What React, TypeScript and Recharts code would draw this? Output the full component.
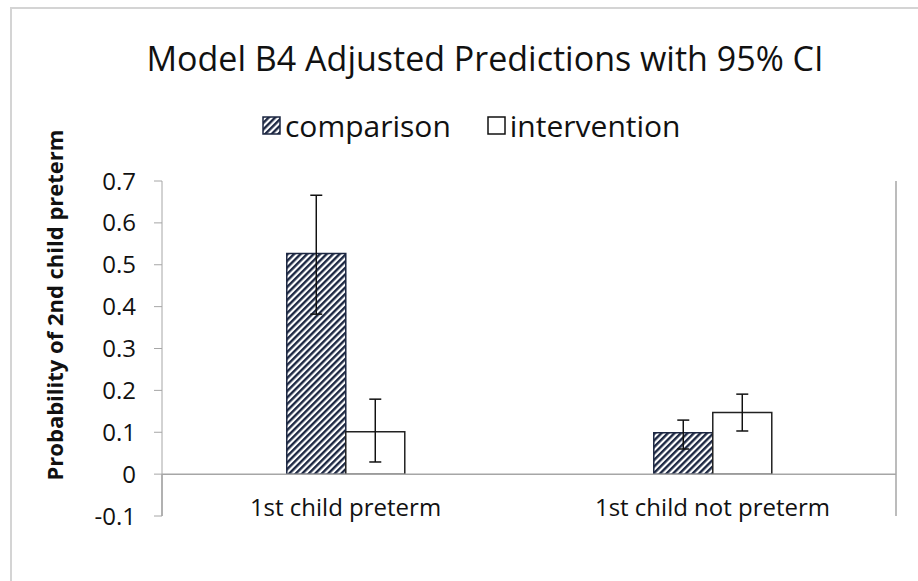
import React from "react";
import {
  BarChart,
  Bar,
  XAxis,
  YAxis,
  ErrorBar,
  ReferenceLine,
} from "recharts";

// values
const groups = ["1st child preterm", "1st child not preterm"];
const comparison = [0.527, 0.099];
const comparisonLow = [0.382, 0.06];
const comparisonHigh = [0.666, 0.129];
const intervention = [0.101, 0.147];
const interventionLow = [0.029, 0.103];
const interventionHigh = [0.179, 0.191];
const yTicks = [-0.1, 0, 0.1, 0.2, 0.3, 0.4, 0.5, 0.6, 0.7];
const dividers = [0, 1, 2];

const data = groups.map((g, i) => ({
  group: g,
  comparison: comparison[i],
  compErr: [comparison[i] - comparisonLow[i], comparisonHigh[i] - comparison[i]],
  intervention: intervention[i],
  intErr: [intervention[i] - interventionLow[i], interventionHigh[i] - intervention[i]],
}));

const FONT = "'Open Sans', 'Noto Sans', sans-serif";
const AXIS = "#a6a6a6";
const NAVY = "#1c2742";

function Hatch({ id }: { id: string }) {
  return (
    <pattern
      id={id}
      patternUnits="userSpaceOnUse"
      width={4.6}
      height={4.6}
      patternTransform="rotate(45)"
    >
      <rect width={4.6} height={4.6} fill="#fff" />
      <rect width={2.4} height={4.6} fill={NAVY} />
    </pattern>
  );
}

function CategoryTick(props: any) {
  const { x, y, payload } = props;
  return (
    <text
      x={x}
      y={y - 14}
      textAnchor="middle"
      dominantBaseline="middle"
      fontSize={24}
      fontFamily={FONT}
      fill="#111"
    >
      {payload.value}
    </text>
  );
}

function ChartLegend() {
  const item = (hatched: boolean, label: string, gap: number) => (
    <span style={{ display: "inline-flex", alignItems: "center", marginRight: gap }}>
      <svg width={19} height={19} style={{ marginRight: 4 }}>
        <defs>
          <Hatch id="hatchLegend" />
        </defs>
        <rect
          x={1}
          y={1}
          width={17}
          height={17}
          fill={hatched ? "url(#hatchLegend)" : "#fff"}
          stroke={hatched ? NAVY : "#111"}
          strokeWidth={1.5}
        />
      </svg>
      <span>{label}</span>
    </span>
  );
  return (
    <div
      style={{
        position: "absolute",
        left: 262,
        top: 105,
        height: 40,
        display: "flex",
        alignItems: "center",
        fontFamily: FONT,
        fontSize: 30,
        color: "#111",
        whiteSpace: "nowrap",
      }}
    >
      {item(true, "comparison", 36)}
      {item(false, "intervention", 0)}
    </div>
  );
}

export default function App() {
  return (
    <div
      style={{
        position: "absolute",
        left: 0,
        top: 0,
        width: 918,
        height: 581,
        overflow: "hidden",
        background: "#fff",
      }}
    >
      <div
        style={{
          position: "absolute",
          left: 10,
          top: 7,
          width: 930,
          height: 600,
          border: "2px solid #d4d4d4",
        }}
      />
      <div
        style={{
          position: "absolute",
          left: 0,
          width: 918,
          top: 35,
          textAlign: "center",
          fontFamily: FONT,
          fontSize: 34,
          color: "#111",
          paddingLeft: 52,
          boxSizing: "border-box",
          whiteSpace: "nowrap",
        }}
      >
        Model B4 Adjusted Predictions with 95% CI
      </div>
      <ChartLegend />
      <div style={{ position: "absolute", left: 0, top: 0 }}>
        <BarChart
          width={918}
          height={581}
          data={data}
          margin={{ top: 181, right: 22, bottom: 35, left: 62 }}
          barCategoryGap="34%"
          barGap={0}
        >
          <defs>
            <Hatch id="hatch" />
          </defs>
          <XAxis
            dataKey="group"
            axisLine={false}
            tickLine={false}
            height={30}
            tick={<CategoryTick />}
          />
          <XAxis xAxisId="n" type="number" domain={[0, 2]} hide />
          <YAxis
            domain={[-0.1, 0.7]}
            ticks={yTicks}
            interval={0}
            width={100}
            stroke={AXIS}
            tickSize={8}
            tickMargin={18}
            tickFormatter={(v: number) => (v === 0 ? "0" : String(Math.round(v * 10) / 10))}
            tick={{ fill: "#111", fontSize: 24, fontFamily: FONT }}
          />
          <ReferenceLine y={0} stroke={AXIS} strokeWidth={1.5} />
          {dividers.map((d) => (
            <ReferenceLine
              key={d}
              xAxisId="n"
              stroke={AXIS}
              strokeWidth={1.5}
              segment={
                d === 1
                  ? [
                      { x: d, y: -0.1 },
                      { x: d, y: 0.7 },
                    ]
                  : [
                      { x: d, y: -0.1 },
                      { x: d, y: 0 },
                    ]
              }
            />
          ))}
          <Bar
            dataKey="comparison"
            name="comparison"
            fill="url(#hatch)"
            stroke={NAVY}
            strokeWidth={1.5}
            isAnimationActive={false}
          >
            <ErrorBar dataKey="compErr" width={6} stroke="#111" strokeWidth={1.5} />
          </Bar>
          <Bar
            dataKey="intervention"
            name="intervention"
            fill="#fff"
            stroke="#222"
            strokeWidth={1.5}
            isAnimationActive={false}
          >
            <ErrorBar dataKey="intErr" width={6} stroke="#111" strokeWidth={1.5} />
          </Bar>
        </BarChart>
      </div>
      <svg
        width={918}
        height={581}
        style={{ position: "absolute", left: 0, top: 0, pointerEvents: "none" }}
      >
        <text
          transform="translate(57, 305) rotate(-90)"
          textAnchor="middle"
          dominantBaseline="middle"
          fontSize={22}
          fontWeight="bold"
          fontFamily={FONT}
          fill="#111"
        >
          Probability of 2nd child preterm
        </text>
      </svg>
    </div>
  );
}
